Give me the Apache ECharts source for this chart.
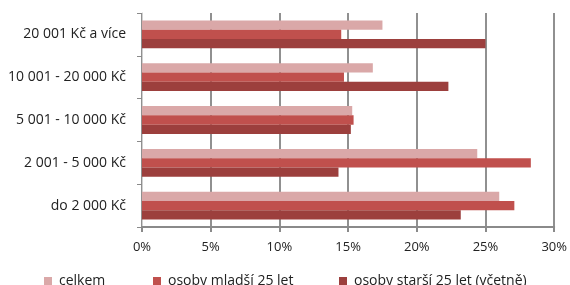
<!DOCTYPE html>
<html><head><meta charset="utf-8">
<script src="https://cdn.jsdelivr.net/npm/echarts@6/dist/echarts.min.js"></script>
<style>html,body{margin:0;padding:0;background:#fff}#c{width:570px;height:285px}</style>
</head><body><div id="c"></div>
<script>
const categories = ['20 001 Kč a více', '10 001 - 20 000 Kč', '5 001 - 10 000 Kč', '2 001 - 5 000 Kč', 'do 2 000 Kč'];
const seriesNames = ['celkem', 'osoby mladší 25 let', 'osoby starší 25 let (včetně)'];
const celkem = [17.5, 16.8, 15.3, 24.4, 26.0];
const mladsi = [14.5, 14.7, 15.4, 28.3, 27.1];
const starsi = [25.0, 22.3, 15.2, 14.3, 23.2];
const xTicks = [0, 5, 10, 15, 20, 25, 30];
const colors = ['#DAA8A8', '#C0504D', '#9C3F3D'];

const font = '"Open Sans", sans-serif';
const chart = echarts.init(document.getElementById('c'), null, {renderer: 'canvas'});
const data = [celkem, mladsi, starsi];
chart.setOption({
  animation: false,
  grid: {left: 142, right: 15, top: 13, bottom: 58, containLabel: false},
  xAxis: {
    type: 'value', min: xTicks[0], max: xTicks[xTicks.length - 1], interval: 5,
    axisLine: {show: true, lineStyle: {color: '#8a8a8a', width: 2}},
    axisTick: {show: true, length: 5, lineStyle: {color: '#8a8a8a', width: 2}},
    splitLine: {show: true, lineStyle: {color: '#909090', width: 2}},
    axisLabel: {formatter: v => v + '%', color: '#222', fontFamily: font, fontSize: 13, margin: 14}
  },
  yAxis: {
    type: 'category', data: categories, inverse: true,
    axisLine: {show: true, lineStyle: {color: '#d0d0d0', width: 1}},
    axisTick: {show: true, length: 5, lineStyle: {color: '#8a8a8a', width: 1}},
    axisLabel: {color: '#222', fontFamily: font, fontSize: 14, margin: 16}
  },
  legend: seriesNames.map((n, i) => ({
    data: [n], left: [39, 148, 334][i], top: 269, icon: 'rect', itemWidth: 8, itemHeight: 8,
    itemGap: 0, textStyle: {color: '#222', fontFamily: font, fontSize: 14, padding: [0, 0, 0, 2]}
  })),
  series: seriesNames.map((n, i) => ({
    name: n, type: 'bar', data: data[i], barGap: '0%', barCategoryGap: '35%',
    itemStyle: {color: colors[i]}
  }))
});
</script></body></html>
